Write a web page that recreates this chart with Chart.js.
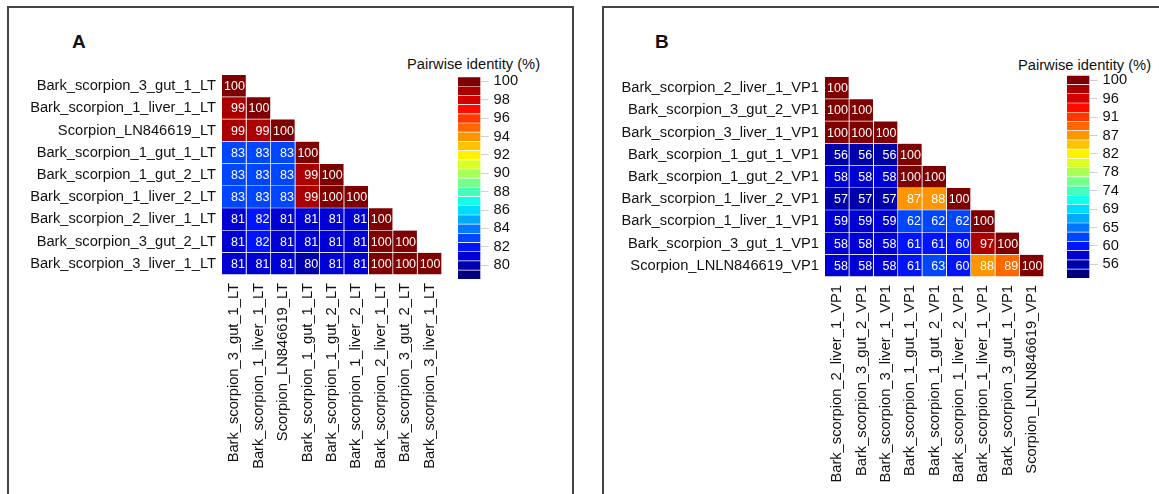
<!DOCTYPE html>
<html>
<head>
<meta charset="utf-8">
<script src="https://cdn.jsdelivr.net/npm/chart.js@4"></script>
<style>
  body { margin: 0; background: #fff; }
  #page { position: relative; width: 1159px; height: 494px; overflow: hidden; font-family: "Liberation Sans", Arial, sans-serif; color: #111; }
  .frame { position: absolute; top: 6px; height: 520px; border: 2px solid #444; box-sizing: border-box; }
  .letter { position: absolute; font-weight: bold; font-size: 19px; line-height: 19px; }
  .ltitle { position: absolute; font-size: 14.7px; line-height: 14.7px; white-space: nowrap; }
  canvas { position: absolute; }
</style>
</head>
<body>
<div id="page">
  <div class="frame" style="left:7px;width:567px"></div>
  <div class="frame" style="left:602px;width:600px"></div>
  <div class="letter" style="left:72px;top:32px">A</div>
  <div class="letter" style="left:655px;top:32px">B</div>
  <div class="ltitle" style="left:407px;top:57px">Pairwise identity (%)</div>
  <div class="ltitle" style="left:1018px;top:58px">Pairwise identity (%)</div>
  <canvas id="heatA" width="432" height="420" style="left:10px;top:75px"></canvas>
  <canvas id="legendA" width="90" height="220" style="left:458px;top:70px"></canvas>
  <canvas id="heatB" width="439" height="420" style="left:605px;top:77px"></canvas>
  <canvas id="legendB" width="92" height="220" style="left:1067px;top:68px"></canvas>
</div>
<script>
// panel A: LT segment
const samplesA = ['Bark_scorpion_3_gut_1_LT', 'Bark_scorpion_1_liver_1_LT', 'Scorpion_LN846619_LT',
  'Bark_scorpion_1_gut_1_LT', 'Bark_scorpion_1_gut_2_LT', 'Bark_scorpion_1_liver_2_LT',
  'Bark_scorpion_2_liver_1_LT', 'Bark_scorpion_3_gut_2_LT', 'Bark_scorpion_3_liver_1_LT'];
const identityA = [
  [100],
  [99, 100],
  [99, 99, 100],
  [83, 83, 83, 100],
  [83, 83, 83, 99, 100],
  [83, 83, 83, 99, 100, 100],
  [81, 82, 81, 81, 81, 81, 100],
  [81, 82, 81, 81, 81, 81, 100, 100],
  [81, 81, 81, 80, 81, 81, 100, 100, 100]
];
const legendTicksA = [100, 98, 96, 94, 92, 90, 88, 86, 84, 82, 80];
const legendRangeA = [78.5, 100.5];

// panel B: VP1
const samplesB = ['Bark_scorpion_2_liver_1_VP1', 'Bark_scorpion_3_gut_2_VP1', 'Bark_scorpion_3_liver_1_VP1',
  'Bark_scorpion_1_gut_1_VP1', 'Bark_scorpion_1_gut_2_VP1', 'Bark_scorpion_1_liver_2_VP1',
  'Bark_scorpion_1_liver_1_VP1', 'Bark_scorpion_3_gut_1_VP1', 'Scorpion_LNLN846619_VP1'];
const identityB = [
  [100],
  [100, 100],
  [100, 100, 100],
  [56, 56, 56, 100],
  [58, 58, 58, 100, 100],
  [57, 57, 57, 87, 88, 100],
  [59, 59, 59, 62, 62, 62, 100],
  [58, 58, 58, 61, 61, 60, 97, 100],
  [58, 58, 58, 61, 63, 60, 88, 89, 100]
];
const legendTicksB = [100, 96, 91, 87, 82, 78, 74, 69, 65, 60, 56];
const legendRangeB = [52.75, 101.25];

// colour ramp, highest value first
const palette = ['#7f0000', '#aa0000', '#d40000', '#ff0c00', '#ff3a00', '#ff6800', '#ff9600', '#ffc400',
  '#fff200', '#daff25', '#a8ff57', '#76ff89', '#44ffbb', '#12ffec', '#00dcff', '#00aaff',
  '#0078ff', '#0046ff', '#0014ff', '#0000d4', '#0000aa', '#00007f'];

Chart.defaults.font.family = '"Liberation Sans", Arial, sans-serif';
Chart.defaults.color = '#111';

function cellColor(v, range) {
  const step = (range[1] - range[0]) / palette.length;
  let k = Math.floor((range[1] - v) / step);
  k = Math.max(0, Math.min(palette.length - 1, k));
  return palette[k];
}

function cellText(values) {
  return {
    id: 'cellText',
    afterDatasetsDraw(chart) {
      const ctx = chart.ctx;
      ctx.save();
      ctx.font = '12.5px "Liberation Sans", Arial, sans-serif';
      ctx.fillStyle = '#fff';
      ctx.textAlign = 'right';
      ctx.textBaseline = 'middle';
      chart.data.datasets.forEach((ds, j) => {
        chart.getDatasetMeta(j).data.forEach((bar, i) => {
          if (ds.data[i] == null) return;
          const right = Math.max(bar.x, bar.base);
          ctx.fillText(String(values[i][j]), right - 1.5, bar.y + 0.5);
        });
      });
      ctx.restore();
    }
  };
}

function heatmap(id, samples, values, range, labelWidth) {
  const canvas = document.getElementById(id);
  const datasets = samples.map((name, j) => ({
    label: name,
    data: samples.map((_, i) => (j <= i ? [j, j + 1] : null)),
    backgroundColor: ctx => {
      const v = values[ctx.dataIndex][j];
      return v == null ? 'transparent' : cellColor(v, range);
    },
    borderColor: 'rgba(255,255,255,0.85)',
    borderWidth: { left: 0, top: 0, right: 1, bottom: 1 },
    borderSkipped: false
  }));
  return new Chart(canvas, {
    type: 'bar',
    data: { labels: samples, datasets },
    options: {
      responsive: false,
      animation: false,
      indexAxis: 'y',
      grouped: false,
      barPercentage: 1,
      categoryPercentage: 1,
      layout: { padding: 0 },
      plugins: { legend: { display: false }, tooltip: { enabled: false } },
      scales: {
        x: {
          type: 'linear',
          min: 0,
          max: samples.length,
          grid: { display: false, drawTicks: false },
          border: { display: false },
          afterBuildTicks: s => { s.ticks = samples.map((_, j) => ({ value: j + 0.5 })); },
          afterFit: s => { s.height = canvas.height - 200; s.paddingLeft = 0; s.paddingRight = 0; },
          ticks: {
            autoSkip: false,
            minRotation: 90,
            maxRotation: 90,
            padding: 8,
            font: { size: 14.7 },
            callback: (v, idx) => samples[idx]
          }
        },
        y: {
          grid: { display: false, drawTicks: false },
          border: { display: false },
          afterFit: s => { s.width = labelWidth; s.paddingTop = 0; s.paddingBottom = 0; },
          ticks: { autoSkip: false, padding: 6, font: { size: 14.7 } }
        }
      }
    },
    plugins: [cellText(values)]
  });
}

function colorbar(id, range, tickLabels, padTop, padBottom) {
  const canvas = document.getElementById(id);
  const step = (range[1] - range[0]) / palette.length;
  const first = tickLabels[0], last = tickLabels[tickLabels.length - 1];
  const tickPos = tickLabels.map((_, k) => first + (last - first) * k / (tickLabels.length - 1));
  const datasets = palette.map((c, k) => ({
    data: [[range[1] - (k + 1) * step, range[1] - k * step]],
    backgroundColor: c,
    borderColor: 'rgba(255,255,255,0.35)',
    borderWidth: { top: 1, bottom: 0, left: 0, right: 0 },
    borderSkipped: false
  }));
  return new Chart(canvas, {
    type: 'bar',
    data: { labels: [''], datasets },
    options: {
      responsive: false,
      animation: false,
      grouped: false,
      barPercentage: 1,
      categoryPercentage: 1,
      layout: { padding: { top: padTop, bottom: padBottom, left: 0, right: 0 } },
      plugins: { legend: { display: false }, tooltip: { enabled: false } },
      scales: {
        x: { display: false },
        y: {
          position: 'right',
          min: range[0],
          max: range[1],
          border: { display: false },
          grid: { drawOnChartArea: false, drawTicks: true, tickLength: 8, color: '#d0d0d0' },
          afterBuildTicks: s => { s.ticks = tickPos.map(v => ({ value: v })); },
          afterFit: s => { s.width = canvas.width - 22.6; s.paddingTop = 0; s.paddingBottom = 0; },
          ticks: {
            autoSkip: false,
            padding: 5,
            font: { size: 14.7 },
            callback: (v, idx) => String(tickLabels[idx])
          }
        }
      }
    }
  });
}

heatmap('heatA', samplesA, identityA, legendRangeA, 212);
colorbar('legendA', legendRangeA, legendTicksA, 6.7, 11);
heatmap('heatB', samplesB, identityB, legendRangeB, 220);
colorbar('legendB', legendRangeB, legendTicksB, 7, 10);
</script>
</body>
</html>
